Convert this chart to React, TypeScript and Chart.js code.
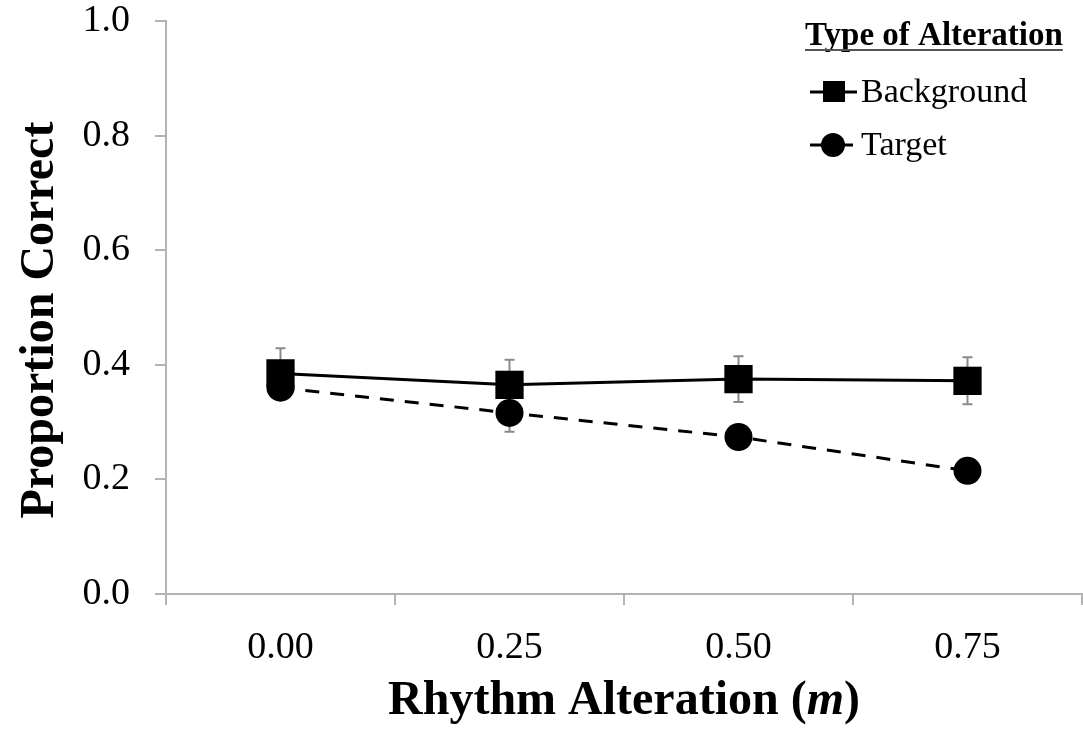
import React, { useEffect, useRef } from "react";
import { Chart, registerables } from "chart.js";

Chart.register(...registerables);

const categories = ["0.00", "0.25", "0.50", "0.75"];
const backgroundValues = [0.385, 0.365, 0.375, 0.372];
const backgroundErrors = [0.044, 0.044, 0.04, 0.041];
const targetValues = [0.36, 0.316, 0.274, 0.215];
const targetErrors = [0.02, 0.033, 0.012, 0.012];
const seriesNames = ["Background", "Target"];
const legendTitle = "Type of Alteration";
const yTitle = "Proportion Correct";
const xTitleParts = ["Rhythm Alteration (", "m", ")"];
const yMin = 0;
const yMax = 1;
const yStep = 0.2;

const SERIF = '"Liberation Serif", "Times New Roman", serif';
const AXIS_GRAY = "#b3b3b3";

const errorBarPlugin = {
  id: "errorBars",
  beforeDatasetsDraw(chart: any) {
    const ctx = chart.ctx;
    const xs = chart.scales.x;
    const ys = chart.scales.y;
    const errs = [backgroundErrors, targetErrors];
    const vals = [backgroundValues, targetValues];
    ctx.save();
    ctx.strokeStyle = "#8a8a8a";
    ctx.lineWidth = 2;
    vals.forEach((arr, d) => {
      arr.forEach((v, j) => {
        const x = xs.getPixelForValue(j);
        const yt = ys.getPixelForValue(v + errs[d][j]);
        const yb = ys.getPixelForValue(v - errs[d][j]);
        ctx.beginPath();
        ctx.moveTo(x, yt);
        ctx.lineTo(x, yb);
        ctx.moveTo(x - 5, yt);
        ctx.lineTo(x + 5, yt);
        ctx.moveTo(x - 5, yb);
        ctx.lineTo(x + 5, yb);
        ctx.stroke();
      });
    });
    ctx.restore();
  },
};

const textPlugin = {
  id: "customText",
  afterDraw(chart: any) {
    const ctx = chart.ctx;
    const area = chart.chartArea;
    ctx.save();
    // X axis title with italic m
    const boldFont = `bold 48px ${SERIF}`;
    const italicFont = `italic bold 48px ${SERIF}`;
    ctx.fillStyle = "#000";
    ctx.textBaseline = "alphabetic";
    ctx.textAlign = "left";
    ctx.font = boldFont;
    const w0 = ctx.measureText(xTitleParts[0]).width;
    const w2 = ctx.measureText(xTitleParts[2]).width;
    ctx.font = italicFont;
    const w1 = ctx.measureText(xTitleParts[1]).width;
    const total = w0 + w1 + w2;
    let x = (area.left + area.right) / 2 - total / 2;
    const yb = 714;
    ctx.font = boldFont;
    ctx.fillText(xTitleParts[0], x, yb);
    x += w0;
    ctx.font = italicFont;
    ctx.fillText(xTitleParts[1], x, yb);
    x += w1;
    ctx.font = boldFont;
    ctx.fillText(xTitleParts[2], x, yb);

    // Y axis title
    ctx.save();
    ctx.translate(41, 320);
    ctx.rotate(-Math.PI / 2);
    ctx.font = `bold 48px ${SERIF}`;
    ctx.textAlign = "center";
    ctx.textBaseline = "middle";
    ctx.fillText(yTitle, 0, 0);
    ctx.restore();

    // Legend
    ctx.textAlign = "left";
    ctx.textBaseline = "alphabetic";
    ctx.font = `bold 33px ${SERIF}`;
    const lx = 805;
    ctx.fillText(legendTitle, lx, 45);
    const tw = ctx.measureText(legendTitle).width;
    ctx.strokeStyle = "#555";
    ctx.lineWidth = 2;
    ctx.beginPath();
    ctx.moveTo(lx, 50);
    ctx.lineTo(lx + tw, 50);
    ctx.stroke();

    ctx.strokeStyle = "#000";
    ctx.lineWidth = 3;
    // Background item
    ctx.beginPath();
    ctx.moveTo(810, 92);
    ctx.lineTo(857, 92);
    ctx.stroke();
    ctx.fillStyle = "#000";
    ctx.fillRect(823, 81, 22, 21);
    // Target item
    ctx.beginPath();
    ctx.moveTo(810, 145);
    ctx.lineTo(853, 145);
    ctx.stroke();
    ctx.beginPath();
    ctx.arc(833, 145, 12, 0, Math.PI * 2);
    ctx.fill();

    ctx.font = `34px ${SERIF}`;
    ctx.textBaseline = "middle";
    ctx.fillText(seriesNames[0], 861, 93);
    ctx.fillText(seriesNames[1], 861, 146);
    ctx.restore();
  },
};

const zeroPad = (s: any) => {
  s.paddingLeft = 0;
  s.paddingRight = 0;
  s.paddingTop = 0;
  s.paddingBottom = 0;
};

export default function App() {
  const ref = useRef<HTMLCanvasElement>(null);
  useEffect(() => {
    if (!ref.current) return;
    const chart = new Chart(ref.current, {
      type: "line",
      data: {
        labels: categories,
        datasets: [
          {
            label: seriesNames[0],
            data: backgroundValues,
            borderColor: "#000",
            backgroundColor: "#000",
            borderWidth: 3,
            pointStyle: "rect",
            pointRadius: 20,
            pointBorderWidth: 0,
            pointBackgroundColor: "#000",
            tension: 0,
            clip: false,
          },
          {
            label: seriesNames[1],
            data: targetValues,
            borderColor: "#000",
            backgroundColor: "#000",
            borderWidth: 3,
            borderDash: [14, 11],
            pointStyle: "circle",
            pointRadius: 14,
            pointBorderWidth: 0,
            pointBackgroundColor: "#000",
            tension: 0,
            clip: false,
          },
        ],
      },
      options: {
        animation: false,
        responsive: false,
        devicePixelRatio: 1,
        layout: { autoPadding: false, padding: { top: 21, right: 1, left: 0, bottom: 0 } },
        plugins: {
          legend: { display: false },
          tooltip: { enabled: false },
          title: { display: false },
        },
        scales: {
          x: {
            type: "category",
            offset: true,
            grid: {
              display: true,
              drawOnChartArea: false,
              drawTicks: true,
              tickLength: 11,
              color: AXIS_GRAY,
              lineWidth: 2,
              offset: true,
            },
            border: { color: AXIS_GRAY, width: 2 },
            ticks: {
              color: "#000",
              font: { family: SERIF, size: 38, lineHeight: 1.2 },
              padding: 20,
              maxRotation: 0,
            },
            afterFit: (s: any) => {
              s.height = 141;
              zeroPad(s);
            },
          },
          y: {
            min: yMin,
            max: yMax,
            grid: {
              display: true,
              drawOnChartArea: false,
              drawTicks: true,
              tickLength: 11,
              color: AXIS_GRAY,
              lineWidth: 2,
            },
            border: { color: AXIS_GRAY, width: 2 },
            ticks: {
              stepSize: yStep,
              color: "#000",
              font: { family: SERIF, size: 38, lineHeight: 1.0 },
              padding: 25,
              callback: (v: any) => Number(v).toFixed(1),
            },
            title: { display: false },
            afterFit: (s: any) => {
              s.width = 166;
              zeroPad(s);
            },
          },
        },
      },
      plugins: [errorBarPlugin, textPlugin],
    });
    return () => chart.destroy();
  }, []);
  return (
    <div style={{ position: "absolute", left: 0, top: 0, width: 1083, height: 735, background: "#fff" }}>
      <canvas ref={ref} width={1083} height={735} />
    </div>
  );
}
